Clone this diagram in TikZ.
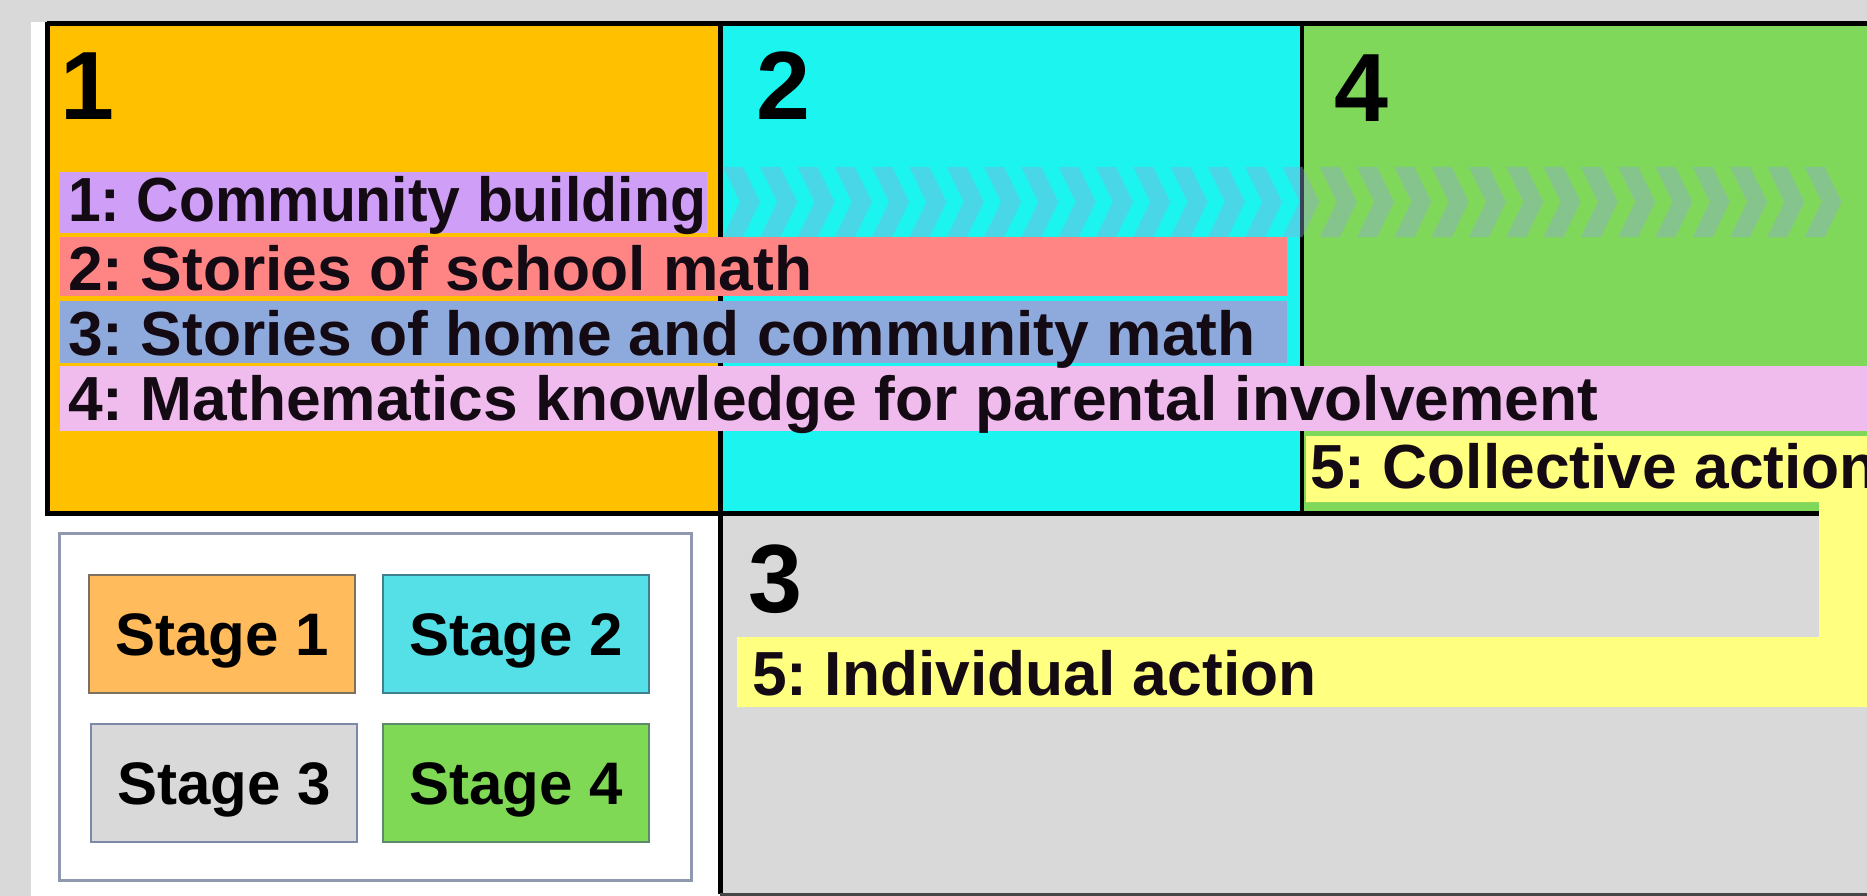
\documentclass[tikz,border=0pt]{standalone}
\usepackage{fontspec}
\setmainfont{Liberation Sans}
\frenchspacing
\definecolor{bg}{HTML}{D9D9D9}
\definecolor{stageone}{HTML}{FFC000}
\definecolor{stagetwo}{HTML}{1CF5EF}
\definecolor{stagefour}{HTML}{80D85A}
\definecolor{stagethree}{HTML}{D9D9D9}
\definecolor{barpurple}{HTML}{CF9EF7}
\definecolor{barred}{HTML}{FF8585}
\definecolor{barblue}{HTML}{8EA9DB}
\definecolor{barpink}{HTML}{F0BCEE}
\definecolor{baryellow}{HTML}{FFFF80}
\definecolor{chev}{HTML}{8EA9DB}
\definecolor{legendline}{HTML}{9098B0}
\definecolor{legone}{HTML}{FFBB5C}
\definecolor{legtwo}{HTML}{55E0E8}
\definecolor{legthree}{HTML}{D9D9D9}
\definecolor{legfour}{HTML}{7FD955}
\definecolor{legoneline}{HTML}{7D7060}
\definecolor{legtwoline}{HTML}{3F7F90}
\definecolor{legthreeline}{HTML}{7D88A8}
\definecolor{legfourline}{HTML}{5C8A6A}
\definecolor{bottomline}{HTML}{464646}
\definecolor{inktext}{HTML}{140A14}
\tikzset{
  frameline/.style={draw=black, line width=5pt},
  bartext/.style={anchor=base west, inner sep=0pt, text=inktext,
    font=\fontsize{62.3}{62.3}\selectfont\bfseries\frenchspacing},
  digit/.style={anchor=base west, inner sep=0pt, text=black,
    font=\fontsize{97}{97}\selectfont\bfseries},
  stagebox/.style={line width=2.5pt, minimum width=266pt, minimum height=118pt,
    inner sep=0pt, text height=43pt, text depth=0pt, text=black,
    font=\fontsize{60}{60}\selectfont\bfseries},
  chevron/.style={fill=chev, opacity=0.4}
}
\begin{document}
\begin{tikzpicture}[x=1pt,y=-1pt]
\clip (0,0) rectangle (1867,896);
% background and page
\fill[bg] (0,0) rectangle (1867,896);
\fill[white] (31,22) rectangle (1867,896);
% stage regions
\fill[stageone] (47,24) rectangle (720,513);
\fill[stagetwo] (720,24) rectangle (1302,513);
\fill[stagefour] (1302,24) rectangle (1867,513);
\fill[stagethree] (720,513) rectangle (1867,894);
% frame lines
\draw[frameline] (47,24) -- (1867,24);
\draw[frameline] (47,22) -- (47,513) -- (1819,513);
\draw[frameline] (720,24) -- (720,894);
\draw[frameline, line width=4pt] (1302,24) -- (1302,513);
\draw[line width=3pt, draw=bottomline] (720,894.5) -- (1867,894.5);
% chevrons
\foreach \i in {0,...,29} {
  \fill[chevron] ({723+37.3*\i},167) -- ++(20,0) -- ++(17,35) -- ++(-17,35)
    -- ++(-20,0) -- ++(17,-35) -- cycle;
}
% bars
\fill[barpurple] (60,172) rectangle (707,233);
\fill[barred] (60,237) rectangle (1287,296);
\fill[barblue] (60,301) rectangle (1287,363);
\fill[barpink] (60,366) rectangle (1867,431);
\fill[baryellow] (1306,436) -- (1867,436) -- (1867,707) -- (737,707) -- (737,637)
  -- (1819,637) -- (1819,502) -- (1306,502) -- cycle;
% stage numbers
\node[digit] (d1) at (60,120) {1};
\node[digit] (d2) at (756,120) {2};
\node[digit] (d4) at (1334,122) {4};
\node[digit] (d3) at (748,612) {3};
% bar texts
\node[bartext] (t1) at (68,222) {\scalebox{0.945}[1]{1: Community building}};
\node[bartext] (t2) at (68,290) {2: Stories of school math};
\node[bartext] (t3) at (68,355) {3: Stories of home and community math};
\node[bartext] (t4) at (68,420) {4: Mathematics knowledge for parental involvement};
\node[bartext] (t5) at (1310,488) {5: Collective action};
\node[bartext] (t6) at (752,695) {5: Individual action};
% legend
\draw[legendline, line width=3pt] (59,533) rectangle (691,880);
\node[stagebox, fill=legone, draw=legoneline] (s1) at (222,634) {Stage 1};
\node[stagebox, fill=legtwo, draw=legtwoline] (s2) at (516,634) {Stage 2};
\node[stagebox, fill=legthree, draw=legthreeline] (s3) at (224,783) {Stage 3};
\node[stagebox, fill=legfour, draw=legfourline] (s4) at (516,783) {Stage 4};
\end{tikzpicture}
\end{document}
